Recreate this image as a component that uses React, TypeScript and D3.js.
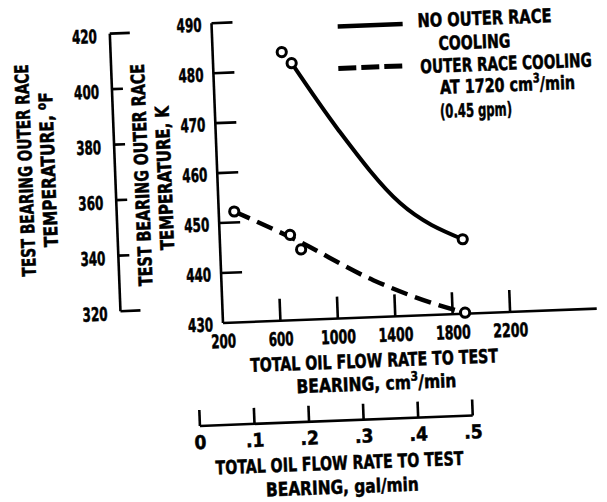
import React from "react";
import * as d3 from "d3";

// ---- axis ticks ----
const flowTicks = [200, 600, 1000, 1400, 1800, 2200];
const kelvinTicks = [430, 440, 450, 460, 470, 480, 490];
const fahrenheitTicks = [320, 340, 360, 380, 400, 420];
const galTicks = [0, 0.1, 0.2, 0.3, 0.4, 0.5];
const galTickLabels = ["0", ".1", ".2", ".3", ".4", ".5"];

// ---- No outer race cooling (solid) ----
const noCoolingFlow = [681, 747, 1890];
const noCoolingTemp = [483.7, 481.4, 444.9];
const noCoolingCurveFlow = [747, 1054, 1464, 1890];
const noCoolingCurveTemp = [481.4, 467.7, 452.6, 444.9];

// ---- Outer race cooling at 1720 cm3/min (dashed) ----
const coolingFlow = [308, 690, 763, 1887];
const coolingTemp = [452.2, 447.1, 444.1, 430.2];
const coolingCurveFlow = [308, 720, 1257, 1669, 1887];
const coolingCurveTemp = [452.2, 446.2, 437.4, 432.3, 430.2];

const FONT = "'DejaVu Sans Condensed', 'DejaVu Sans', 'Liberation Sans', sans-serif";
const FS = 19;

export default function App() {
  const W = 607;
  const H = 502;
  const ox = 223;
  const oy = 323;

  const x = d3.scaleLinear().domain([200, 2200]).range([ox, 510.3]);
  const yK = d3.scaleLinear().domain([430, 490]).range([oy, 23]);
  const fToK = (f: number) => ((f - 32) * 5) / 9 + 273.15;
  const gal = d3.scaleLinear().domain([0, 0.5]).range([196, 469]);
  const fAxisX = 121;
  const galAxisY = 425;

  const solidPts = noCoolingCurveFlow.map((f, i) => [f, noCoolingCurveTemp[i]] as [number, number]);
  const dashPts = coolingCurveFlow.map((f, i) => [f, coolingCurveTemp[i]] as [number, number]);
  const line = d3
    .line<[number, number]>()
    .x((d) => x(d[0]))
    .y((d) => yK(d[1]))
    .curve(d3.curveMonotoneX);

  const base = {
    fontFamily: FONT,
    fontWeight: 700 as const,
    fontSize: FS,
    fill: "#000",
    stroke: "#000",
    strokeWidth: 0.5,
  };
  const txt = { ...base, lengthAdjust: "spacingAndGlyphs" };
  const numW = (s: string) => (s.length >= 4 ? 35 : 25);

  return (
    <svg
      width={W}
      height={H}
      style={{ position: "absolute", left: 0, top: 0, background: "#fff", display: "block" }}
    >
      <rect x={0} y={0} width={W} height={H} fill="#fff" />
      <g transform={`rotate(-2.2, ${ox}, ${oy})`}>
        {/* main K axis */}
        <line x1={ox} y1={yK(490)} x2={ox} y2={oy} stroke="#000" strokeWidth={2.6} />
        {kelvinTicks
          .filter((v) => v > 430)
          .map((v) => (
            <line key={"kt" + v} x1={ox} x2={ox + 21} y1={yK(v)} y2={yK(v)} stroke="#000" strokeWidth={2.6} />
          ))}
        {kelvinTicks.map((v) => (
          <text key={"kl" + v} {...txt} x={ox - 10} y={yK(v) + 8} textAnchor="end" textLength={25}>
            {v}
          </text>
        ))}

        {/* x axis */}
        <line x1={ox} y1={oy} x2={597} y2={oy} stroke="#000" strokeWidth={2.6} />
        {flowTicks
          .filter((v) => v > 200)
          .map((v) => (
            <line key={"xt" + v} x1={x(v)} x2={x(v)} y1={oy} y2={oy - 22} stroke="#000" strokeWidth={2.6} />
          ))}
        {flowTicks.map((v) => (
          <text key={"xl" + v} {...txt} x={x(v)} y={348} textAnchor="middle" textLength={numW(String(v))}>
            {v}
          </text>
        ))}
        <text {...txt} x={372.5} y={373} textAnchor="middle" textLength={248}>
          TOTAL OIL FLOW RATE TO TEST
        </text>
        <text {...txt} x={374} y={396} textAnchor="middle" textLength={160}>
          BEARING, cm
          <tspan fontSize={13} dy={-8}>3</tspan>
          <tspan dy={8}>/min</tspan>
        </text>

        {/* Fahrenheit axis */}
        <line x1={fAxisX} x2={fAxisX} y1={yK(fToK(420))} y2={yK(fToK(320))} stroke="#000" strokeWidth={2.6} />
        {fahrenheitTicks.map((v) => {
          const end = v === 420 || v === 320;
          return (
            <line
              key={"ft" + v}
              x1={fAxisX}
              x2={fAxisX + (end ? 20 : 11)}
              y1={yK(fToK(v))}
              y2={yK(fToK(v))}
              stroke="#000"
              strokeWidth={2.6}
            />
          );
        })}
        {fahrenheitTicks.map((v) => (
          <text key={"fl" + v} {...txt} x={108} y={yK(fToK(v)) + 9} textAnchor="end" textLength={25}>
            {v}
          </text>
        ))}

        {/* y titles */}
        <text {...txt} transform="translate(38,163) rotate(-90)" textAnchor="middle" textLength={212}>
          TEST BEARING OUTER RACE
        </text>
        <text {...txt} transform="translate(61,163) rotate(-90)" textAnchor="middle" textLength={155}>
          TEMPERATURE, <tspan fontSize={13} dy={-7}>o</tspan>
          <tspan dy={7}>F</tspan>
        </text>
        <text {...txt} transform="translate(154,172) rotate(-90)" textAnchor="middle" textLength={222}>
          TEST BEARING OUTER RACE
        </text>
        <text {...txt} transform="translate(177,176) rotate(-90)" textAnchor="middle" textLength={144}>
          TEMPERATURE, K
        </text>

        {/* gal/min axis */}
        <line x1={gal(0)} x2={gal(0.5)} y1={galAxisY} y2={galAxisY} stroke="#000" strokeWidth={2.6} />
        {galTicks.map((v) => (
          <line key={"gt" + v} x1={gal(v)} x2={gal(v)} y1={galAxisY} y2={galAxisY - 16} stroke="#000" strokeWidth={2.6} />
        ))}
        {galTicks.map((v, i) => (
          <text key={"gl" + v} {...txt} x={gal(v)} y={448} textAnchor="middle">
            {galTickLabels[i]}
          </text>
        ))}
        <text {...txt} x={334} y={474} textAnchor="middle" textLength={248}>
          TOTAL OIL FLOW RATE TO TEST
        </text>
        <text {...txt} x={336} y={498} textAnchor="middle" textLength={153}>
          BEARING, gal/min
        </text>

        {/* curves */}
        <path d={line(solidPts) || ""} fill="none" stroke="#000" strokeWidth={4} />
        <path d={line(dashPts) || ""} fill="none" stroke="#000" strokeWidth={4.5} strokeDasharray="17 8" />

        {/* points */}
        {noCoolingFlow.map((f, i) => (
          <circle key={"s" + i} cx={x(f)} cy={yK(noCoolingTemp[i])} r={4.6} fill="#fff" stroke="#000" strokeWidth={3} />
        ))}
        {coolingFlow.map((f, i) => (
          <circle key={"d" + i} cx={x(f)} cy={yK(coolingTemp[i])} r={4.6} fill="#fff" stroke="#000" strokeWidth={3} />
        ))}

        {/* legend */}
        <line x1={349} x2={414} y1={31} y2={31} stroke="#000" strokeWidth={4.5} />
        <text {...txt} x={429} y={35} textLength={134}>NO OUTER RACE</text>
        <text {...txt} x={449} y={58.5} textLength={72}>COOLING</text>
        <line x1={348} x2={413} y1={73} y2={73} stroke="#000" strokeWidth={5} strokeDasharray="18 5" />
        <text {...base} transform="translate(430,81) scale(0.8,1)">OUTER RACE COOLING</text>
        <text {...txt} x={449} y={102.5} textLength={135}>
          AT 1720 cm<tspan fontSize={13} dy={-8}>3</tspan>
          <tspan dy={8}>/min</tspan>
        </text>
        <text {...txt} x={448} y={126.5} textLength={72}>(0.45 gpm)</text>
      </g>
    </svg>
  );
}
